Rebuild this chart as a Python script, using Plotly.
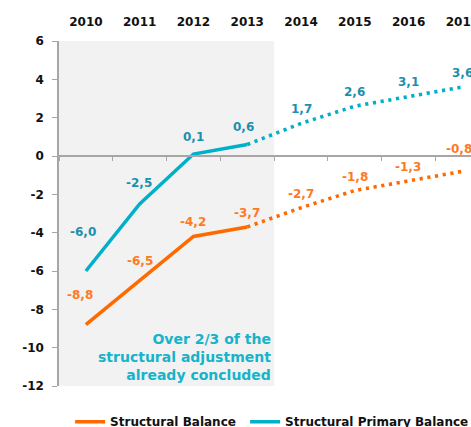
import plotly.graph_objects as go

years = ["2010", "2011", "2012", "2013", "2014", "2015", "2016", "2017"]
structural_balance = [-8.8, -6.5, -4.2, -3.7, -2.7, -1.8, -1.3, -0.8]
structural_primary = [-6.0, -2.5, 0.1, 0.6, 1.7, 2.6, 3.1, 3.6]
last_actual = "2013"  # solid up to here, dotted afterwards
y_ticks = [-12, -10, -8, -6, -4, -2, 0, 2, 4, 6]
y_tick_text = [str(t) for t in y_ticks]

# label pixel offsets (style only)
sb_off = [(-6, 30), (0, 20), (0, 15), (0, 14), (0, 14), (0, 14), (-1, 14), (-3, 22)]
sp_off = [(-3, 39), (-1, 21), (0, 17), (-4, 18), (0, 14), (0, 14), (0, 15), (0, 14)]

ORANGE = "#FF6A00"
ORANGE_TXT = "#FF7A1F"
TEAL = "#00B0CA"
TEAL_TXT = "#1B90AC"
NOTE = "#17B3CB"
AXIS = "#A6A6A6"
FONT = "DejaVu Sans"
DOT = "3.2px,4.6px"

k = years.index(last_actual)
fig = go.Figure()

# solid parts (legend entries)
fig.add_trace(go.Scatter(x=years[:k + 1], y=structural_balance[:k + 1], mode="lines",
                         line=dict(color=ORANGE, width=3.5), name="Structural Balance\u00a0"))
fig.add_trace(go.Scatter(x=years[:k + 1], y=structural_primary[:k + 1], mode="lines",
                         line=dict(color=TEAL, width=3.5), name="Structural Primary Balance"))
# dotted projections
fig.add_trace(go.Scatter(x=years[k:], y=structural_balance[k:], mode="lines", xaxis="x2",
                         line=dict(color=ORANGE, width=3.6, dash=DOT), showlegend=False))
fig.add_trace(go.Scatter(x=years[k:], y=structural_primary[k:], mode="lines", xaxis="x2",
                         line=dict(color=TEAL, width=3.6, dash=DOT), showlegend=False))

annotations = []
for i, (v, (dx, dy)) in enumerate(zip(structural_balance, sb_off)):
    annotations.append(dict(x=i, y=v, xref="x", yref="y", text=f"{v:.1f}".replace(".", ","),
                            showarrow=False, xanchor="center", yanchor="middle", xshift=dx, yshift=dy,
                            font=dict(family=FONT, size=12, color=ORANGE_TXT, weight="bold")))
for i, (v, (dx, dy)) in enumerate(zip(structural_primary, sp_off)):
    annotations.append(dict(x=i, y=v, xref="x", yref="y", text=f"{v:.1f}".replace(".", ","),
                            showarrow=False, xanchor="center", yanchor="middle", xshift=dx, yshift=dy,
                            font=dict(family=FONT, size=12, color=TEAL_TXT, weight="bold")))
annotations.append(dict(x=k + 0.47, y=y_ticks[0], xref="x", yref="y",
                        text="Over 2/3 of the<br>structural adjustment<br>already concluded",
                        showarrow=False, xanchor="right", yanchor="bottom", align="right", yshift=1,
                        font=dict(family=FONT, size=14, color=NOTE, weight="bold")))

xr = [-0.5, 7.16]
fig.update_layout(
    width=471, height=427,
    margin=dict(l=59, r=0, t=41, b=41, autoexpand=False),
    paper_bgcolor="white", plot_bgcolor="white",
    font=dict(family=FONT, size=12, color="#111111"),
    shapes=[dict(type="rect", xref="x", yref="y", x0=-0.5, x1=k + 0.5,
                 y0=y_ticks[0], y1=y_ticks[-1], fillcolor="#F2F2F2", line=dict(width=0), layer="below")],
    annotations=annotations,
    xaxis=dict(type="category", categoryorder="array", categoryarray=years, range=xr,
               side="top", showline=False, showgrid=False, zeroline=False, ticks="",
               tickfont=dict(family=FONT, size=12, color="#111111", weight="bold"),
               ticklabelstandoff=12, automargin=False),
    xaxis2=dict(type="category", categoryorder="array", categoryarray=years, range=xr,
                overlaying="x", anchor="free", position=(0 - y_ticks[0]) / (y_ticks[-1] - y_ticks[0]),
                side="bottom", showline=True, linecolor=AXIS, linewidth=1.5, showgrid=False,
                zeroline=False, ticks="outside", tickson="boundaries", ticklen=4, tickcolor=AXIS,
                showticklabels=False, automargin=False),
    yaxis=dict(range=[y_ticks[0], y_ticks[-1]], tickvals=y_ticks, ticktext=y_tick_text,
               showgrid=False, zeroline=False,
               showline=True, linecolor=AXIS, linewidth=1.5, ticks="outside", ticklen=5, tickcolor=AXIS,
               tickfont=dict(family=FONT, size=12, color="#111111", weight="bold"),
               ticklabelstandoff=6, automargin=False),
    legend=dict(orientation="h", x=0.027, xanchor="left", y=-0.1035, yanchor="middle",
                font=dict(family=FONT, size=12, color="#111111", weight="bold"),
                bgcolor="rgba(0,0,0,0)", borderwidth=0, tracegroupgap=0),
)

# remove the browser's default 8px body margin so the 471x427 figure fills the window exactly
fig.write_html("out.html", config={"displayModeBar": False},
               post_script="document.body.style.margin='0';document.body.style.overflow='hidden';")
